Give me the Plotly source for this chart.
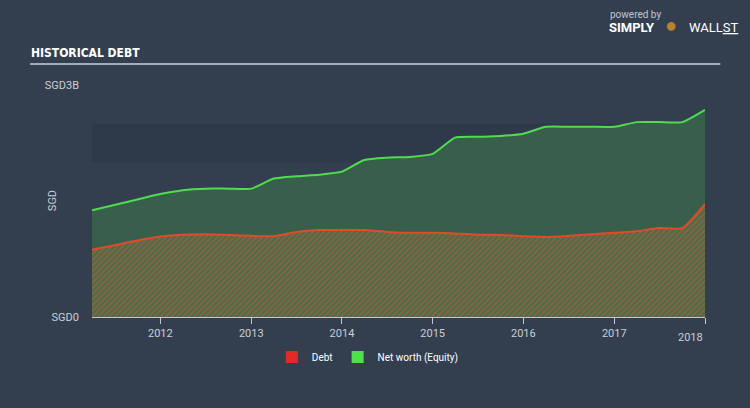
import plotly.graph_objects as go

dates = ["2011-04-01", "2011-10-01", "2012-01-01", "2012-04-01", "2012-07-01", "2012-10-01",
         "2013-01-01", "2013-04-01", "2013-07-01", "2013-10-01", "2014-01-01", "2014-04-01",
         "2014-07-01", "2014-10-01", "2015-01-01", "2015-04-01", "2015-07-01", "2015-10-01",
         "2016-01-01", "2016-04-01", "2016-07-01", "2016-10-01", "2017-01-01", "2017-04-01",
         "2017-07-01", "2017-10-01", "2018-01-01"]
equity = [1.38, 1.52, 1.59, 1.64, 1.66, 1.66, 1.66, 1.79, 1.82, 1.84, 1.88, 2.03,
          2.06, 2.07, 2.11, 2.32, 2.33, 2.34, 2.37, 2.46, 2.46, 2.46, 2.46, 2.52,
          2.52, 2.52, 2.68]
debt = [0.87, 0.99, 1.04, 1.065, 1.07, 1.06, 1.05, 1.045, 1.10, 1.125, 1.125, 1.125,
        1.10, 1.09, 1.09, 1.08, 1.065, 1.06, 1.045, 1.035, 1.05, 1.07, 1.09, 1.11,
        1.15, 1.15, 1.46]
year_ticks = ["2012-01-01", "2013-01-01", "2014-01-01", "2015-01-01", "2016-01-01", "2017-01-01", "2018-01-01"]
year_labels = ["2012", "2013", "2014", "2015", "2016", "2017", ""]
y_ticks = [0, 3]
y_labels = ["SGD0", "SGD3B"]

BG = "#333f4f"
TXT = "#c9cfd6"

fig = go.Figure()
fig.add_trace(go.Scatter(
    x=dates, y=equity, mode="lines", line=dict(color="#4fdd4f", width=2, shape="spline", smoothing=0.5),
    fill="tozeroy", fillcolor="#375f4c", showlegend=False, hoverinfo="skip"))
fig.add_trace(go.Scatter(
    x=dates, y=debt, mode="lines", line=dict(color="#e24a2a", width=2, shape="spline", smoothing=0.5),
    fill="tozeroy", fillcolor="#3d6a4b",
    fillpattern=dict(shape="/", fgcolor="#cc5a32", bgcolor="#3f6e4c", size=4, solidity=0.55),
    showlegend=False, hoverinfo="skip"))
# legend entries
fig.add_trace(go.Scatter(x=[None], y=[None], mode="markers", name="Debt",
                         marker=dict(symbol="square", size=12, color="#e02a2a")))
fig.add_trace(go.Scatter(x=[None], y=[None], mode="markers", name="Net worth (Equity)",
                         marker=dict(symbol="square", size=12, color="#4fe04f")))

fig.update_layout(
    width=750, height=408,
    paper_bgcolor=BG, plot_bgcolor=BG,
    margin=dict(l=92, r=45, t=85, b=91),
    font=dict(family="Roboto, sans-serif", color=TXT, size=11),
    legend=dict(orientation="h", x=0.45, xanchor="center", y=-0.11, yanchor="top",
                font=dict(size=10, color="#ffffff"), itemwidth=30, bgcolor="rgba(0,0,0,0)"),
    xaxis=dict(range=["2011-04-01", "2018-01-01"], tickvals=year_ticks, ticktext=year_labels,
               showgrid=False, zeroline=False, showline=True, linecolor="#c3c9d1", linewidth=1,
               ticks="outside", ticklen=6, tickcolor="#c3c9d1", tickfont=dict(size=11, color=TXT)),
    yaxis=dict(range=[0, 3], tickvals=y_ticks, ticktext=y_labels, showgrid=False, zeroline=False,
               showline=False, ticks="", ticklabelstandoff=12, tickfont=dict(size=11, color=TXT)),
    shapes=[
        dict(type="rect", xref="paper", yref="y", x0=0, x1=1, y0=2.0, y1=2.5,
             fillcolor="#2e3a49", line=dict(width=0), layer="below"),
        dict(type="line", xref="paper", yref="paper", x0=-0.101, x1=1.025, y0=1.09, y1=1.09,
             line=dict(color="#c8d0d8", width=1.5)),
    ],
    annotations=[
        dict(text="<b>HISTORICAL DEBT</b>", xref="paper", yref="paper", x=-0.103, y=1.10,
             xanchor="left", yanchor="bottom", showarrow=False,
             font=dict(family="DejaVu Sans Condensed, Liberation Sans Narrow, sans-serif", size=12, color="#ffffff")),
        dict(text="SGD", xref="paper", yref="paper", x=-0.065, y=0.5, textangle=-90,
             xanchor="center", yanchor="middle", showarrow=False, font=dict(size=11, color=TXT)),
        dict(text="2018", xref="x", yref="paper", x="2018-01-01", y=-0.05, xanchor="right", yanchor="top",
             showarrow=False, font=dict(size=11, color=TXT)),
        dict(text="powered by", xref="paper", yref="paper", x=0.842, y=1.27, xanchor="left", yanchor="bottom",
             showarrow=False, font=dict(size=10, color="#c0c6ce")),
        dict(text="<b>SIMPLY</b>", xref="paper", yref="paper", x=0.84, y=1.205, xanchor="left", yanchor="bottom",
             showarrow=False, font=dict(size=13, color="#ffffff")),
        dict(text="WALL<u>ST</u>", xref="paper", yref="paper", x=0.97, y=1.205, xanchor="left", yanchor="bottom",
             showarrow=False, font=dict(size=13, color="#ffffff")),
        dict(text="●", xref="paper", yref="paper", x=0.945, y=1.20, xanchor="center", yanchor="bottom",
             showarrow=False, font=dict(size=20, color="#b8832f")),
    ],
)

fig.write_html("out.html")
